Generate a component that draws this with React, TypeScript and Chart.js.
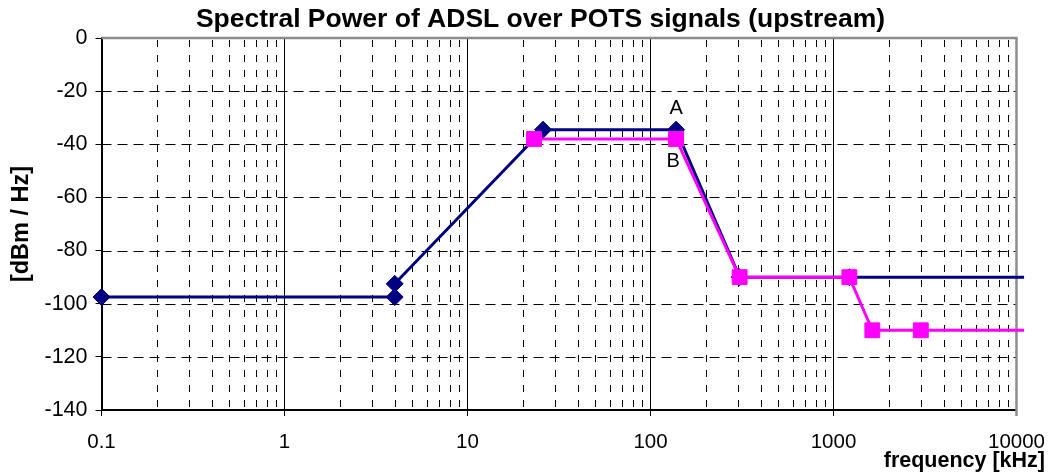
import React, { useEffect, useRef } from "react";
import { Chart, registerables } from "chart.js";

Chart.register(...registerables);

// ---- data ----
const freqA = [0.1, 4, 4, 25.875, 138, 307, 1221, 11000];
const psdA = [-97.5, -97.5, -92.5, -34.5, -34.5, -90, -90, -90];
const freqB = [23.1, 138, 307, 1221, 1630, 3000, 11000];
const psdB = [-38, -38, -90, -90, -110, -110, -110];

const xTickValues = [0.1, 1, 10, 100, 1000, 10000];
const xTickLabels = ["0.1", "1", "10", "100", "1000", "10000"];
const yTickValues = [0, -20, -40, -60, -80, -100, -120, -140];
const yTickLabels = ["0", "-20", "-40", "-60", "-80", "-100", "-120", "-140"];
const minorMultipliers = [2, 3, 4, 5, 6, 7, 8, 9];

const titleText = "Spectral Power of ADSL over POTS signals (upstream)";
const xTitleText = "frequency [kHz]";
const yTitleText = "[dBm / Hz]";
const labelA = "A";
const labelB = "B";
const labelFreq = 138;
const labelPsdA = -34.5;
const labelPsdB = -38;

const NAVY = "#000080";
const MAGENTA = "#FF00FF";
const FONT = "'Liberation Sans', Arial, Helvetica, sans-serif";

const decorPlugin = {
  id: "decor",
  beforeDatasetsDraw(chart: any) {
    const { ctx, chartArea: a, scales } = chart;
    const x = scales.x;
    const y = scales.y;
    ctx.save();
    ctx.beginPath();
    ctx.rect(a.left, a.top, a.right - a.left, a.bottom - a.top);
    ctx.clip();
    ctx.strokeStyle = "#000";
    ctx.lineWidth = 1;
    // horizontal dashed grid
    ctx.setLineDash([10, 6]);
    for (const v of yTickValues) {
      if (v === 0 || v === -140) continue;
      const py = Math.round(y.getPixelForValue(v)) + 0.5;
      ctx.beginPath();
      ctx.moveTo(a.left, py);
      ctx.lineTo(a.right, py);
      ctx.stroke();
    }
    // minor vertical dashed grid
    ctx.setLineDash([7, 8]);
    for (let i = 0; i < xTickValues.length - 1; i++) {
      for (const m of minorMultipliers) {
        const px = Math.round(x.getPixelForValue(xTickValues[i] * m)) + 0.5;
        ctx.beginPath();
        ctx.moveTo(px, a.top + 2);
        ctx.lineTo(px, a.bottom);
        ctx.stroke();
      }
    }
    // major vertical solid grid
    ctx.setLineDash([]);
    for (let i = 1; i < xTickValues.length - 1; i++) {
      const px = Math.round(x.getPixelForValue(xTickValues[i])) + 0.5;
      ctx.beginPath();
      ctx.moveTo(px, a.top);
      ctx.lineTo(px, a.bottom);
      ctx.stroke();
    }
    ctx.restore();
    // top and right frame (grey)
    ctx.save();
    ctx.strokeStyle = "#8c8c8c";
    ctx.lineWidth = 2.5;
    ctx.beginPath();
    ctx.moveTo(a.left, a.top);
    ctx.lineTo(a.right, a.top);
    ctx.lineTo(a.right, a.bottom + 6);
    ctx.stroke();
    ctx.restore();
  },
  afterDraw(chart: any) {
    const { ctx, scales } = chart;
    const x = scales.x;
    const y = scales.y;
    ctx.save();
    ctx.fillStyle = "#000";
    // title
    ctx.font = `bold 26.5px ${FONT}`;
    ctx.textAlign = "center";
    ctx.textBaseline = "middle";
    ctx.fillText(titleText, 540.5, 20);
    // x title
    ctx.font = `bold 21.5px ${FONT}`;
    ctx.textAlign = "right";
    ctx.textBaseline = "alphabetic";
    ctx.fillText(xTitleText, 1045, 467);
    // A / B labels
    ctx.font = `20px ${FONT}`;
    ctx.textAlign = "center";
    ctx.textBaseline = "middle";
    const lx = x.getPixelForValue(labelFreq);
    ctx.fillText(labelA, lx, y.getPixelForValue(labelPsdA) - 21);
    ctx.fillText(labelB, lx - 3, y.getPixelForValue(labelPsdB) + 23);
    ctx.restore();
  },
};

export default function App() {
  const ref = useRef<HTMLCanvasElement | null>(null);
  useEffect(() => {
    document.body.style.margin = "0";
    const canvas = ref.current!;
    Chart.defaults.font.family = FONT;
    const chart = new Chart(canvas, {
      type: "line",
      data: {
        datasets: [
          {
            label: "B",
            data: freqB.map((f, i) => ({ x: f, y: psdB[i] })),
            borderColor: MAGENTA,
            backgroundColor: MAGENTA,
            borderWidth: 3,
            pointStyle: "rect",
            pointRadius: (c: any) => (c.dataIndex === freqB.length - 1 ? 0 : 10.5),
            pointBorderWidth: 1,
            pointBorderColor: MAGENTA,
            pointBackgroundColor: MAGENTA,
            tension: 0,
            clip: false as any,
            order: 0,
          },
          {
            label: "A",
            data: freqA.map((f, i) => ({ x: f, y: psdA[i] })),
            borderColor: NAVY,
            backgroundColor: NAVY,
            borderWidth: 3,
            pointStyle: "rectRot",
            pointRadius: (c: any) => (c.dataIndex === freqA.length - 1 ? 0 : 8.5),
            pointBorderWidth: 1,
            pointBorderColor: NAVY,
            pointBackgroundColor: NAVY,
            tension: 0,
            clip: false as any,
            order: 1,
          },
        ],
      },
      options: {
        responsive: false,
        animation: false,
        devicePixelRatio: 1,
        layout: { padding: { top: 38, right: 39, left: 0, bottom: 0 } },
        plugins: {
          legend: { display: false },
          title: { display: false },
          tooltip: { enabled: false },
        },
        scales: {
          x: {
            type: "logarithmic",
            min: 0.1,
            max: 10000,
            afterBuildTicks: (scale: any) => {
              scale.ticks = xTickValues.map((v) => ({ value: v }));
            },
            afterFit: (scale: any) => {
              scale.height = 65;
            },
            ticks: {
              autoSkip: false,
              maxRotation: 0,
              minRotation: 0,
              color: "#000",
              font: { size: 20.5 },
              padding: 14,
              callback: (_v: any, i: number) => xTickLabels[i],
            },
            grid: {
              drawOnChartArea: false,
              drawTicks: true,
              tickLength: 6,
              tickColor: "#000",
              tickWidth: 1,
            },
            border: { color: "#000", width: 2 },
          },
          y: {
            type: "linear",
            min: -140,
            max: 0,
            afterBuildTicks: (scale: any) => {
              scale.ticks = yTickValues.map((v) => ({ value: v }));
            },
            afterFit: (scale: any) => {
              scale.width = 101.5;
            },
            ticks: {
              autoSkip: false,
              color: "#000",
              font: { size: 21.5 },
              padding: 8,
              callback: (_v: any, i: number) => yTickLabels[i],
            },
            title: {
              display: true,
              text: yTitleText,
              color: "#000",
              font: { size: 23.5, weight: "bold" },
              padding: { top: 7.5, bottom: 0 },
            },
            grid: {
              drawOnChartArea: false,
              drawTicks: true,
              tickLength: 6,
              tickColor: "#000",
              tickWidth: 1,
            },
            border: { color: "#000", width: 2 },
          },
        },
      },
      plugins: [decorPlugin],
    } as any);
    return () => chart.destroy();
  }, []);
  return <canvas ref={ref} width={1059} height={475} />;
}
